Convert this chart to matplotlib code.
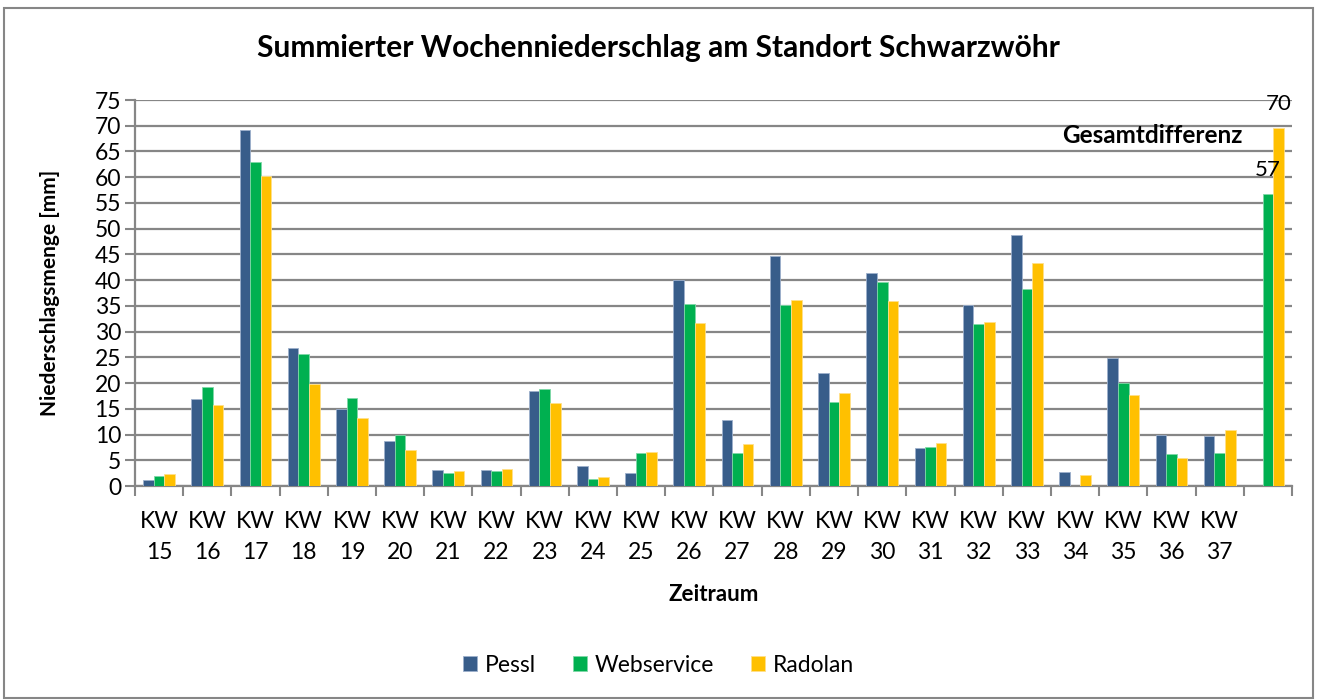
import numpy as np
import matplotlib.pyplot as plt
from matplotlib.patches import Rectangle

plt.rcParams['font.family'] = ['Lato', 'DejaVu Sans']

weeks = ['KW\n15', 'KW\n16', 'KW\n17', 'KW\n18', 'KW\n19', 'KW\n20', 'KW\n21', 'KW\n22',
         'KW\n23', 'KW\n24', 'KW\n25', 'KW\n26', 'KW\n27', 'KW\n28', 'KW\n29', 'KW\n30',
         'KW\n31', 'KW\n32', 'KW\n33', 'KW\n34', 'KW\n35', 'KW\n36', 'KW\n37', '']

pessl = [1.2, 17.0, 69.2, 26.9, 14.9, 8.8, 3.2, 3.2, 18.4, 3.8, 2.5, 40.1, 12.8, 44.6,
         21.9, 41.4, 7.4, 35.2, 48.7, 2.8, 24.8, 10.0, 9.7, 0]
webservice = [1.9, 19.3, 63.0, 25.7, 17.1, 10.0, 2.5, 3.0, 18.9, 1.3, 6.4, 35.4, 6.4, 35.1,
              16.3, 39.7, 7.6, 31.5, 38.3, 0, 20.0, 6.2, 6.5, 56.7]
radolan = [2.4, 15.8, 60.3, 19.9, 13.2, 6.9, 2.9, 3.3, 16.2, 1.7, 6.6, 31.6, 8.2, 36.1,
           18.0, 35.9, 8.4, 31.9, 43.4, 2.2, 17.6, 5.5, 10.8, 69.5]

total_labels = ['57', '70']

fig = plt.figure(figsize=(13.17, 7.0), dpi=100)
ax = fig.add_axes([0.1025, 0.3057, 0.8785, 0.5514])

x = np.arange(len(weeks))
w = 0.22
colors = ['#385D8A', '#00B050', '#FFC000']
edges = ['#9DB0CC', '#7FD8A7', '#FFE08A']
for k, (vals, name) in enumerate([(pessl, 'Pessl'), (webservice, 'Webservice'), (radolan, 'Radolan')]):
    ax.bar(x + (k - 1) * w, vals, width=w, color=colors[k], edgecolor=edges[k],
           linewidth=0.6, label=name, zorder=3)

# labels for the total difference
last = len(weeks) - 1
ax.text(last, 61.5, total_labels[0], ha='center', va='center', fontsize=16)
ax.text(last + w, 74.2, total_labels[1], ha='center', va='center', fontsize=16)
ax.text(last - 2.4, 68.2, 'Gesamtdifferenz', ha='center', va='center',
        fontsize=17.5, fontweight='bold')

ax.set_xlim(-0.5, len(weeks) - 0.5)
ax.set_ylim(0, 75)
ax.set_yticks(np.arange(0, 76, 5))
ax.yaxis.grid(True, color='#868686', linewidth=1.6, zorder=0)
ax.set_axisbelow(True)

ax.set_xticks(np.arange(-0.5, len(weeks), 1))
ax.set_xticklabels([])
ax.set_xticks(x, minor=True)
ax.set_xticklabels(weeks, minor=True, fontsize=16.5, linespacing=1.6)
ax.tick_params(axis='x', which='major', length=7, width=1.5, color='#868686', direction='out')
ax.tick_params(axis='x', which='minor', length=0, pad=18)
ax.tick_params(axis='y', length=7, width=1.5, color='#868686', labelsize=16.5, pad=3)

for s in ['top', 'right']:
    ax.spines[s].set_visible(False)
for s in ['left', 'bottom']:
    ax.spines[s].set_color('#868686')
    ax.spines[s].set_linewidth(1.6)

ax.set_xlabel('Zeitraum', fontsize=16, fontweight='bold', labelpad=15)
ax.set_ylabel('Niederschlagsmenge [mm]', fontsize=15, fontweight='bold', labelpad=25)
fig.text(0.5, 0.931, 'Summierter Wochenniederschlag am Standort Schwarzwöhr',
         ha='center', va='center', fontsize=21.5, fontweight='bold')

ax.legend(loc='center', bbox_to_anchor=(0.5, 0.05), bbox_transform=fig.transFigure,
          ncol=3, frameon=False, fontsize=16.5, handlelength=0.62, handleheight=0.62,
          columnspacing=1.6, handletextpad=0.35)

fig.patches.append(Rectangle((0.003, 0.003), 0.994, 0.985, transform=fig.transFigure,
                             fill=False, edgecolor='#868686', linewidth=1.5))

fig.savefig('out.png', dpi=100)
